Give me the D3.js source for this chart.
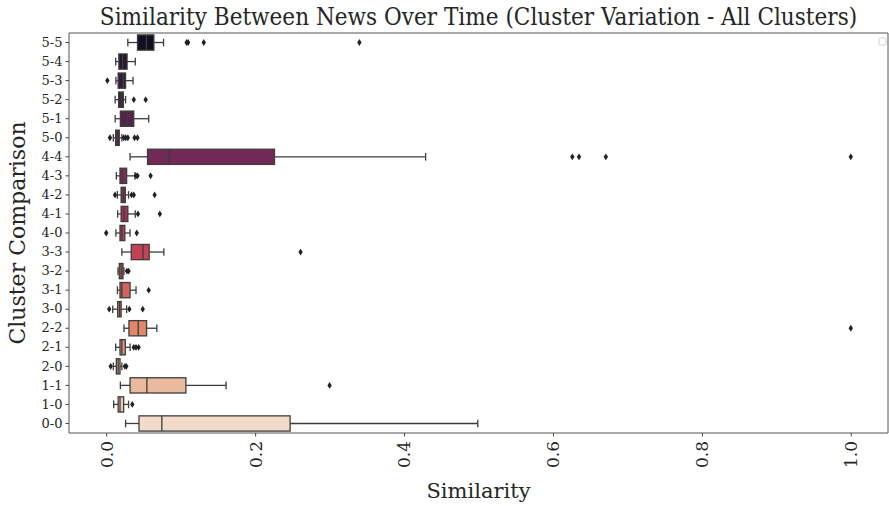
<!DOCTYPE html>
<html>
<head>
<meta charset="utf-8">
<script src="https://cdn.jsdelivr.net/npm/d3@7"></script>
<style>
  body { margin: 0; background: #fff; }
  text { font-family: "DejaVu Serif", serif; fill: #262626; }
</style>
</head>
<body>
<div class="chart"></div>
<script>
// box stats, top row first
const categories = ['5-5', '5-4', '5-3', '5-2', '5-1', '5-0', '4-4', '4-3', '4-2', '4-1', '4-0',
  '3-3', '3-2', '3-1', '3-0', '2-2', '2-1', '2-0', '1-1', '1-0', '0-0']
const whiskerLow = [0.029, 0.0127, 0.013, 0.012, 0.012, 0.0095, 0.032, 0.0136, 0.0149, 0.0154, 0.013,
  0.021, 0.0158, 0.015, 0.0087, 0.0238, 0.0127, 0.0095, 0.019, 0.010, 0.026]
const q1 = [0.042, 0.017, 0.016, 0.0167, 0.019, 0.0127, 0.0555, 0.0185, 0.020, 0.020, 0.0185,
  0.0336, 0.0175, 0.0185, 0.0154, 0.0305, 0.0185, 0.0136, 0.032, 0.016, 0.044]
const median = [0.054, 0.022, 0.023, 0.020, 0.028, 0.015, 0.0845, 0.0216, 0.023, 0.0238, 0.021,
  0.0493, 0.020, 0.021, 0.018, 0.043, 0.021, 0.016, 0.0546, 0.0185, 0.0747]
const q3 = [0.064, 0.028, 0.026, 0.023, 0.037, 0.0175, 0.226, 0.0274, 0.0256, 0.029, 0.025,
  0.0577, 0.0225, 0.032, 0.020, 0.0542, 0.0256, 0.0185, 0.107, 0.0234, 0.247]
const whiskerHigh = [0.077, 0.039, 0.036, 0.026, 0.057, 0.021, 0.429, 0.0386, 0.030, 0.039, 0.032,
  0.0774, 0.0238, 0.040, 0.0274, 0.068, 0.032, 0.021, 0.161, 0.030, 0.499]
const outliers = [
  [0.108, 0.110, 0.131, 0.340],
  [],
  [0.0015],
  [0.037, 0.053],
  [],
  [0.005, 0.0235, 0.026, 0.029, 0.038, 0.042],
  [0.626, 0.635, 0.671, 1.0],
  [0.040, 0.042, 0.0596],
  [0.0118, 0.034, 0.037, 0.065],
  [0.0426, 0.072],
  [0.0, 0.041],
  [0.261],
  [0.0278, 0.030],
  [0.057],
  [0.004, 0.031, 0.049],
  [1.0],
  [0.037, 0.040, 0.0435],
  [0.006, 0.025, 0.027],
  [0.300],
  [0.035],
  []
]
const xTicks = [0.0, 0.2, 0.4, 0.6, 0.8, 1.0]

const margin = {top: 33, right: 1, bottom: 73, left: 69}
const width = 889 - margin.left - margin.right
const height = 506 - margin.top - margin.bottom

const data = categories.map((c, i) => ({
  cat: c, lo: whiskerLow[i], q1: q1[i], med: median[i], q3: q3[i], hi: whiskerHigh[i], out: outliers[i]
}))

// rocket palette, sampled like seaborn, then desaturated 0.75
const rocket = d3.scaleLinear()
  .domain([0, 1/7, 2/7, 3/7, 4/7, 5/7, 6/7, 1])
  .range(['#03051a', '#35193e', '#701f57', '#ad1759', '#e13342', '#f37651', '#f6b48f', '#faebdd'])
  .interpolate(d3.interpolateRgb)
const colors = categories.map((c, i) => {
  const h = d3.hsl(rocket((i + 1) / (categories.length + 1)))
  h.s *= 0.75
  return h.formatHex()
})

const svg = d3.select('.chart')
  .append('svg')
    .attr('width', width + margin.left + margin.right)
    .attr('height', height + margin.top + margin.bottom)

const g = svg.append('g')
  .attr('transform', `translate(${margin.left}, ${margin.top})`)

const x = d3.scaleLinear()
  .domain([-0.05, 1.05])
  .range([0, width])

const y = d3.scaleBand()
  .domain(categories)
  .range([0, height])

const boxH = y.bandwidth() * 0.8
const capH = boxH * 0.5
const edge = '#3d3d3d'

// axes
const yAxis = d3.axisLeft(y).tickSize(3.5).tickPadding(3)
g.append('g')
  .call(yAxis)
  .call(s => s.selectAll('text').style('font-size', '13px'))

const xAxis = d3.axisBottom(x).tickValues(xTicks).tickFormat(d3.format('.1f')).tickSize(3.5)
g.append('g')
  .attr('transform', `translate(0, ${height})`)
  .call(xAxis)
  .call(s => s.selectAll('text')
    .style('font-size', '17px')
    .attr('text-anchor', 'end')
    .attr('dy', '0.35em')
    .attr('x', 0)
    .attr('y', 0)
    .attr('transform', 'translate(0, 8) rotate(-90)'))

svg.selectAll('.domain').remove()
svg.selectAll('.tick line').attr('stroke', '#444')

// spines
const spines = [[0, 0, 0, height], [0, height, width, height], [0, 0, width, 0], [width, 0, width, height]]
g.selectAll('.spine')
  .data(spines)
  .enter()
  .append('line')
  .attr('x1', d => d[0]).attr('y1', d => d[1])
  .attr('x2', d => d[2]).attr('y2', d => d[3])
  .attr('stroke', '#555')

const rows = g.selectAll('.row')
  .data(data)
  .enter()
  .append('g')
  .attr('class', 'row')
  .attr('transform', d => `translate(0, ${y(d.cat) + y.bandwidth() / 2})`)

// whiskers
rows.append('line')
  .attr('x1', d => x(d.lo)).attr('x2', d => x(d.q1))
  .attr('stroke', edge).attr('stroke-width', 1.3)
rows.append('line')
  .attr('x1', d => x(d.q3)).attr('x2', d => x(d.hi))
  .attr('stroke', edge).attr('stroke-width', 1.3)
rows.append('line')
  .attr('x1', d => x(d.lo)).attr('x2', d => x(d.lo))
  .attr('y1', -capH / 2).attr('y2', capH / 2)
  .attr('stroke', edge).attr('stroke-width', 1.3)
rows.append('line')
  .attr('x1', d => x(d.hi)).attr('x2', d => x(d.hi))
  .attr('y1', -capH / 2).attr('y2', capH / 2)
  .attr('stroke', edge).attr('stroke-width', 1.3)

// boxes
rows.append('rect')
  .attr('x', d => x(d.q1))
  .attr('y', -boxH / 2)
  .attr('width', d => x(d.q3) - x(d.q1))
  .attr('height', boxH)
  .attr('fill', (d, i) => colors[i])
  .attr('stroke', edge)
  .attr('stroke-width', 1.3)

rows.append('line')
  .attr('x1', d => x(d.med)).attr('x2', d => x(d.med))
  .attr('y1', -boxH / 2).attr('y2', boxH / 2)
  .attr('stroke', edge).attr('stroke-width', 1.3)

// fliers, thin diamonds
rows.selectAll('.flier')
  .data(d => d.out)
  .enter()
  .append('path')
  .attr('class', 'flier')
  .attr('d', v => `M${x(v)},-3.4L${x(v) + 2.2},0L${x(v)},3.4L${x(v) - 2.2},0Z`)
  .attr('fill', '#222')

// empty legend frame
svg.append('rect')
  .attr('x', 879).attr('y', 38)
  .attr('width', 7).attr('height', 7)
  .attr('rx', 1.5)
  .attr('fill', '#fff')
  .attr('stroke', '#d0d0d0')

svg.append('text')
  .attr('transform', `translate(${margin.left + width / 2}, 25) scale(0.92, 1)`)
  .attr('text-anchor', 'middle')
  .style('font-size', '23.5px')
  .text('Similarity Between News Over Time (Cluster Variation - All Clusters)')

svg.append('text')
  .attr('x', margin.left + width / 2)
  .attr('y', 498)
  .attr('text-anchor', 'middle')
  .style('font-size', '21px')
  .text('Similarity')

svg.append('text')
  .attr('transform', `translate(25, ${margin.top + height / 2}) rotate(-90)`)
  .attr('text-anchor', 'middle')
  .style('font-size', '22px')
  .text('Cluster Comparison')
</script>
</body>
</html>
